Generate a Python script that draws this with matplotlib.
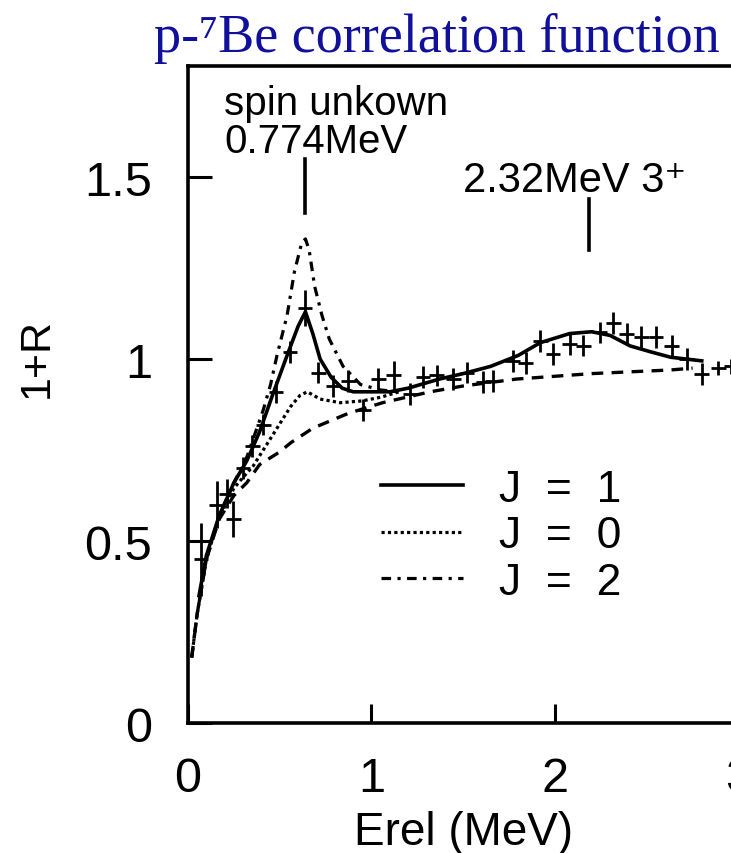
import matplotlib
matplotlib.use("Agg")
import matplotlib.pyplot as plt
import numpy as np

plt.rcParams['font.family'] = ['Liberation Sans', 'DejaVu Sans']

# measured correlation function (E_rel, 1+R, error)
e_data = [0.07, 0.156, 0.21, 0.247, 0.30, 0.35, 0.41, 0.48, 0.556, 0.638,
          0.71, 0.79, 0.874, 0.955, 1.037, 1.12, 1.21, 1.28, 1.355, 1.446,
          1.52, 1.61, 1.66, 1.77, 1.84, 1.92, 1.99, 2.08, 2.154, 2.245,
          2.318, 2.39, 2.47, 2.55, 2.636, 2.718, 2.80, 2.89, 2.96]
r_data = [0.45, 0.60, 0.63, 0.56, 0.70, 0.76, 0.82, 0.91, 1.02, 1.14,
          0.963, 0.927, 0.94, 0.86, 0.945, 0.955, 0.904, 0.95, 0.955, 0.945,
          0.963, 0.936, 0.94, 0.995, 0.99, 1.05, 1.014, 1.04, 1.037, 1.073,
          1.10, 1.069, 1.06, 1.06, 1.037, 1.0, 0.96, 0.975, 0.98]
r_err = [0.10, 0.065, 0.04, 0.05, 0.03, 0.03, 0.03, 0.03, 0.03, 0.05,
         0.03, 0.03, 0.03, 0.03, 0.03, 0.04, 0.03, 0.03, 0.03, 0.03,
         0.03, 0.03, 0.03, 0.03, 0.03, 0.03, 0.03, 0.03, 0.03, 0.03,
         0.03, 0.03, 0.03, 0.03, 0.03, 0.03, 0.03, 0.02, 0.02]

# fits for the 0.774 MeV state with different spins
e_j1 = [0.06, 0.10, 0.17, 0.25, 0.32, 0.39, 0.46, 0.54, 0.60, 0.64, 0.68,
        0.72, 0.78, 0.84, 0.90, 1.00, 1.10, 1.20, 1.37, 1.50, 1.65, 1.80,
        1.92, 2.08, 2.20, 2.30, 2.41, 2.52, 2.63, 2.80]
r_j1 = [0.35, 0.46, 0.57, 0.66, 0.72, 0.80, 0.90, 1.01, 1.09, 1.13, 1.07,
        1.00, 0.95, 0.92, 0.91, 0.91, 0.91, 0.92, 0.945, 0.96, 0.98, 1.01,
        1.045, 1.07, 1.075, 1.065, 1.036, 1.02, 1.005, 0.995]

e_j0 = [0.02, 0.05, 0.10, 0.17, 0.25, 0.30, 0.355, 0.41, 0.485, 0.56,
        0.61, 0.65, 0.72, 0.83, 0.95, 1.05, 1.15]
r_j0 = [0.18, 0.30, 0.45, 0.565, 0.645, 0.675, 0.706, 0.75, 0.81, 0.87,
        0.90, 0.91, 0.89, 0.88, 0.885, 0.895, 0.91]

e_j2 = [0.02, 0.05, 0.10, 0.17, 0.25, 0.32, 0.41, 0.45, 0.485, 0.54, 0.58,
        0.62, 0.64, 0.66, 0.69, 0.73, 0.77, 0.845, 0.94, 1.05, 1.15]
r_j2 = [0.18, 0.30, 0.45, 0.57, 0.66, 0.73, 0.86, 0.93, 1.01, 1.12, 1.24,
        1.32, 1.33, 1.30, 1.20, 1.12, 1.055, 0.98, 0.93, 0.915, 0.91]

# non-resonant background
e_bg = [0.02, 0.05, 0.10, 0.17, 0.25, 0.32, 0.39, 0.50, 0.56, 0.68, 0.87,
        1.06, 1.32, 1.50, 1.79, 2.20, 2.63, 2.75]
r_bg = [0.18, 0.30, 0.45, 0.56, 0.625, 0.66, 0.71, 0.745, 0.77, 0.81, 0.85,
        0.88, 0.91, 0.926, 0.945, 0.96, 0.97, 0.975]

# 8B levels (excitation energy) and p+7Be threshold
state_ex = [0.774, 2.32]
state_text = ['spin unkown\n0.774MeV', '2.32MeV 3⁺']
threshold = 0.137

fig = plt.figure(figsize=(7.31, 8.54), dpi=100)
ax = fig.add_axes([0.2572, 0.1522, 0.753, 0.7693])

ax.errorbar(e_data, r_data, yerr=r_err, xerr=0.04, fmt='none',
            ecolor='black', elinewidth=2.0, capsize=0)

ax.plot(e_j1, r_j1, color='black', lw=2.6, label='J  =  1')
ax.plot(e_j0, r_j0, color='black', lw=2.3, linestyle=(0, (1, 1)), label='J  =  0')
ax.plot(e_j2, r_j2, color='black', lw=2.3, linestyle=(0, (3, 2, 1, 2)), label='J  =  2')
ax.plot(e_bg, r_bg, color='black', lw=2.4, linestyle=(0, (3.5, 2.5)))

# level markers
e_rel = np.array(state_ex) - threshold
ax.plot([e_rel[0], e_rel[0]], [1.40, 1.55], color='black', lw=2.6)
ax.plot([e_rel[1], e_rel[1]], [1.30, 1.44], color='black', lw=2.6)
line1, line2 = state_text[0].split('\n')
ax.text(0.196, 1.672, line1, fontsize=29, va='baseline', ha='left')
ax.text(0.196, 1.569, line2, fontsize=29, va='baseline', ha='left')
ax.text(1.50, 1.462, state_text[1], fontsize=30, va='baseline', ha='left',
        family=['Liberation Sans', 'DejaVu Sans'])

ax.set_xlim(0, 3)
ax.set_ylim(0, 1.805)
ax.set_xticks([0, 1, 2, 3])
ax.set_xticklabels(['0', '1', '2', '3'])
ax.set_yticks([0, 0.5, 1, 1.5])
ax.set_yticklabels(['0', '0.5', '1', '1.5'])
ax.tick_params(axis='both', direction='in', labelsize=35, width=2.2,
               top=False, right=False)
ax.tick_params(axis='y', length=17, pad=26)
ax.tick_params(axis='x', length=14, pad=24)
for sp in ax.spines.values():
    sp.set_linewidth(2.6)

ax.set_xlabel('Erel (MeV)', fontsize=33)
ax.xaxis.set_label_coords(0.5, -0.133)
ax.set_ylabel('1+R', fontsize=31)
ax.yaxis.set_label_coords(-0.238, 0.557)

ax.legend(loc='upper left', bbox_to_anchor=(1.052, 0.698),
          bbox_transform=ax.transData, frameon=False, fontsize=32,
          handlelength=1.85, handletextpad=0.8, labelspacing=0.12,
          borderpad=0, borderaxespad=0)

fig.text(0.211, 0.939, 'p-⁷Be correlation function', fontsize=39,
         color='#10109a', family=['Liberation Serif', 'DejaVu Serif'],
         va='baseline', ha='left')

fig.savefig('out.png', dpi=100)
